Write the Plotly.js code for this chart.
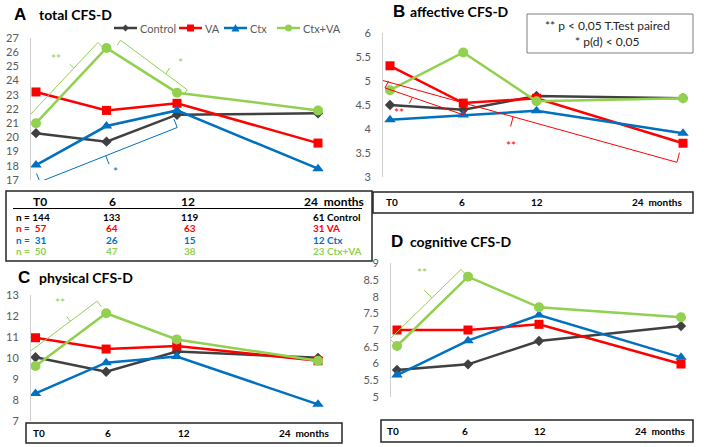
<!DOCTYPE html>
<html><head><meta charset="utf-8">
<script src="https://cdn.plot.ly/plotly-3.0.1.min.js"></script>
<style>html,body{margin:0;padding:0;background:#fff}#chart{width:704px;height:447px}</style>
</head><body><div id="chart"></div>
<script>
// ---------- data ----------
const months = [0, 6, 12, 24];
const monthLabels = ['T0', '6', '12', '24\u00a0 months'];
const groups = ['Control', 'VA', 'Ctx', 'Ctx+VA'];

// A: total CFS-D
const totalControl = [20.3, 19.7, 21.6, 21.7];
const totalVA      = [23.2, 21.9, 22.4, 19.6];
const totalCtx     = [18.05, 20.8, 21.9, 17.8];
const totalCtxVA   = [21.0, 26.3, 23.15, 21.9];
// B: affective CFS-D
const affControl = [4.5, 4.4, 4.69, 4.64];
const affVA      = [5.32, 4.54, 4.64, 3.7];
const affCtx     = [4.19, 4.29, 4.38, 3.91];
const affCtxVA   = [4.81, 5.6, 4.58, 4.64];
// C: physical CFS-D
const physControl = [10.03, 9.34, 10.3, 10.0];
const physVA      = [10.96, 10.42, 10.57, 9.86];
const physCtx     = [8.3, 9.77, 10.06, 7.78];
const physCtxVA   = [9.61, 12.13, 10.88, 9.86];
// D: cognitive CFS-D
const cogControl = [5.8, 5.97, 6.67, 7.12];
const cogVA      = [7.0, 7.0, 7.17, 5.98];
const cogCtx     = [5.65, 6.68, 7.45, 6.18];
const cogCtxVA   = [6.52, 8.6, 7.68, 7.38];

// sample sizes
const nControl = [144, 133, 119, 61];
const nVA      = [57, 64, 63, 31];
const nCtx     = [31, 26, 15, 12];
const nCtxVA   = [50, 47, 38, 23];

const sigLegend = ['** p &lt; 0,05 T.Test paired', '* p(d) &lt; 0,05'];

// ---------- styles ----------
const W = 704, H = 447;
const colors = ['#404040', '#ff0000', '#0070c0', '#92d050'];
const symbols = ['diamond', 'square', 'triangle-up', 'circle'];
const msizes = [8, 9, 10, 10];
const FONT = 'Lato, "Open Sans", sans-serif';
const fx = x => x / W;
const fy = y => 1 - y / H;

const panels = [
  {ax: '',  letter: 'A', title: 'total CFS-D',     dom: [31, 330],  x0: 36,  x24: 318, py: [38, 180],    yr: [17, 27], dtick: 1,
   series: [totalControl, totalVA, totalCtx, totalCtxVA], letterPos: [12, 15], titlePos: [37, 15]},
  {ax: '2', letter: 'B', title: 'affective CFS-D', dom: [383, 695], x0: 390, x24: 683, py: [33.3, 176.7], yr: [3, 6],   dtick: 0.5,
   series: [affControl, affVA, affCtx, affCtxVA], letterPos: [391, 12], titlePos: [408, 12]},
  {ax: '3', letter: 'C', title: 'physical CFS-D',  dom: [31, 330],  x0: 35.5, x24: 318, py: [295, 420.7], yr: [7, 13],  dtick: 1,
   series: [physControl, physVA, physCtx, physCtxVA], letterPos: [16, 277], titlePos: [37, 277]},
  {ax: '4', letter: 'D', title: 'cognitive CFS-D', dom: [391, 695], x0: 397, x24: 681, py: [263.3, 396.7], yr: [5, 9],  dtick: 0.5,
   series: [cogControl, cogVA, cogCtx, cogCtxVA], letterPos: [389, 241], titlePos: [408, 241]}
];

const data = [];
const layout = {
  width: W, height: H, margin: {l: 0, r: 0, t: 0, b: 0},
  paper_bgcolor: '#ffffff', plot_bgcolor: 'rgba(0,0,0,0)',
  showlegend: false, font: {family: FONT, color: '#404040'},
  annotations: [], shapes: []
};

panels.forEach(p => {
  p.pxm = (p.x24 - p.x0) / 24;
  p.pxu = (p.py[1] - p.py[0]) / (p.yr[1] - p.yr[0]);
  const xr = [(p.dom[0] - p.x0) / p.pxm, (p.dom[1] - p.x0) / p.pxm];
  layout['xaxis' + p.ax] = {
    domain: [fx(p.dom[0]), fx(p.dom[1])], range: xr, anchor: 'y' + p.ax,
    showline: false, showgrid: false, zeroline: false, showticklabels: false, ticks: '', fixedrange: true
  };
  layout['yaxis' + p.ax] = {
    domain: [fy(p.py[1]), fy(p.py[0])], range: p.yr, anchor: 'x' + p.ax, dtick: p.dtick, tick0: 0,
    showline: true, linecolor: '#d0d0d0', linewidth: 1, showgrid: false, zeroline: false, ticks: '',
    ticklabelstandoff: 9, tickfont: {family: FONT, size: 11, color: '#595959'}, fixedrange: true
  };
  p.series.forEach((s, g) => {
    data.push({
      type: 'scatter', mode: 'lines+markers', name: groups[g], x: months, y: s,
      xaxis: 'x' + p.ax, yaxis: 'y' + p.ax, cliponaxis: false,
      line: {color: colors[g], width: 2.5},
      marker: {symbol: symbols[g], size: msizes[g], color: colors[g]}
    });
  });
  layout.annotations.push({xref: 'paper', yref: 'paper', x: fx(p.letterPos[0]), y: fy(p.letterPos[1]),
    xanchor: 'left', yanchor: 'middle', showarrow: false, text: '<b>' + p.letter + '</b>',
    font: {family: '"Liberation Sans", Arial, sans-serif', size: 17, color: '#000'}});
  layout.annotations.push({xref: 'paper', yref: 'paper', x: fx(p.titlePos[0]), y: fy(p.titlePos[1]),
    xanchor: 'left', yanchor: 'middle', showarrow: false, text: '<b>' + p.title + '</b>',
    font: {family: FONT, size: 14, color: '#000'}});
});

// ---------- manual legend (panel A) ----------
const legTextX = [138, 203, 248, 301];
const legY = 28;
groups.forEach((g, i) => {
  const x1 = legTextX[i] - 1, x0 = x1 - 23, cx = (x0 + x1) / 2;
  layout.shapes.push({type: 'line', xref: 'paper', yref: 'paper', x0: fx(x0), x1: fx(x1), y0: fy(legY), y1: fy(legY),
    line: {color: colors[i], width: 2.5}});
  const r = 3.5;
  let path;
  if (symbols[i] === 'diamond') path = `M${fx(cx)},${fy(legY - r)} L${fx(cx + r)},${fy(legY)} L${fx(cx)},${fy(legY + r)} L${fx(cx - r)},${fy(legY)} Z`;
  else if (symbols[i] === 'square') path = `M${fx(cx - r)},${fy(legY - r)} L${fx(cx + r)},${fy(legY - r)} L${fx(cx + r)},${fy(legY + r)} L${fx(cx - r)},${fy(legY + r)} Z`;
  else if (symbols[i] === 'triangle-up') path = `M${fx(cx)},${fy(legY - r - 0.5)} L${fx(cx + r + 0.5)},${fy(legY + r)} L${fx(cx - r - 0.5)},${fy(legY + r)} Z`;
  if (path) layout.shapes.push({type: 'path', xref: 'paper', yref: 'paper', path, fillcolor: colors[i], line: {width: 0}});
  else layout.shapes.push({type: 'circle', xref: 'paper', yref: 'paper', x0: fx(cx - r), x1: fx(cx + r), y0: fy(legY + r), y1: fy(legY - r),
    fillcolor: colors[i], line: {width: 0}});
  layout.annotations.push({xref: 'paper', yref: 'paper', x: fx(legTextX[i]), y: fy(legY), xanchor: 'left', yanchor: 'middle',
    showarrow: false, text: g, font: {family: FONT, size: 11, color: '#595959'}});
});

// ---------- boxes with month labels ----------
function box(x0, y0, x1, y1) {
  layout.shapes.push({type: 'rect', xref: 'paper', yref: 'paper', x0: fx(x0), x1: fx(x1), y0: fy(y1), y1: fy(y0),
    line: {color: '#262626', width: 1.5}, fillcolor: 'rgba(0,0,0,0)'});
}
function monthRow(xs, y, size) {
  monthLabels.forEach((t, i) => {
    layout.annotations.push({xref: 'paper', yref: 'paper', x: fx(xs[i]), y: fy(y), xanchor: 'center', yanchor: 'middle',
      showarrow: false, text: '<b>' + t + '</b>', font: {family: FONT, size: size, color: '#000'}});
  });
}
// table under A
box(6, 191, 372, 261);
monthRow([40, 112, 188, 334], 201.5, 12);
layout.shapes.push({type: 'line', xref: 'paper', yref: 'paper', x0: fx(13), x1: fx(362), y0: fy(208.5), y1: fy(208.5),
  line: {color: '#000', width: 1}});
const tableRows = [nControl, nVA, nCtx, nCtxVA];
const rowY = [216.5, 228, 239.5, 251];
tableRows.forEach((row, r) => {
  const font = {family: FONT, size: 10, color: colors[r] === '#404040' ? '#000' : colors[r]};
  const first = 'n = ' + (row[0] < 100 ? '\u00a0' : '') + row[0];
  layout.annotations.push({xref: 'paper', yref: 'paper', x: fx(14), y: fy(rowY[r]), xanchor: 'left', yanchor: 'middle',
    showarrow: false, text: '<b>' + first + '</b>', font});
  layout.annotations.push({xref: 'paper', yref: 'paper', x: fx(112), y: fy(rowY[r]), xanchor: 'center', yanchor: 'middle',
    showarrow: false, text: '<b>' + row[1] + '</b>', font});
  layout.annotations.push({xref: 'paper', yref: 'paper', x: fx(190), y: fy(rowY[r]), xanchor: 'center', yanchor: 'middle',
    showarrow: false, text: '<b>' + row[2] + '</b>', font});
  layout.annotations.push({xref: 'paper', yref: 'paper', x: fx(311), y: fy(rowY[r]), xanchor: 'left', yanchor: 'middle',
    showarrow: false, text: '<b>' + row[3] + ' ' + groups[r] + '</b>', font});
});
// boxes under B, C, D
box(373, 192, 693, 213);
monthRow([392, 462, 537, 657], 202.5, 10);
box(26, 423, 342, 443);
monthRow([39, 108, 184, 304], 433, 10);
box(381, 420, 693, 442);
monthRow([393, 464.5, 539.5, 660], 431, 10);

// significance legend box
layout.shapes.push({type: 'rect', xref: 'paper', yref: 'paper', x0: fx(527), x1: fx(693), y0: fy(53), y1: fy(14),
  line: {color: '#7f7f7f', width: 1}, fillcolor: 'rgba(0,0,0,0)'});
sigLegend.forEach((t, i) => {
  layout.annotations.push({xref: 'paper', yref: 'paper', x: fx(607), y: fy(i === 0 ? 26 : 42), xanchor: 'center', yanchor: 'middle',
    showarrow: false, text: t, font: {family: FONT, size: 12, color: '#262626'}});
});

// ---------- significance braces ----------
function brace(p, series, i0, i1, o) {
  const P0 = [months[i0] * p.pxm, -series[i0] * p.pxu];
  const P1 = [months[i1] * p.pxm, -series[i1] * p.pxu];
  const L = Math.hypot(P1[0] - P0[0], P1[1] - P0[1]);
  const u = [(P1[0] - P0[0]) / L, (P1[1] - P0[1]) / L];
  const n = [o.side * u[1], -o.side * u[0]];
  const add = (A, v, k) => [A[0] + v[0] * k, A[1] + v[1] * k];
  const S = add(add(P0, n, o.d0), u, -o.e0);
  const E = add(add(P1, n, o.d1), u, o.e1);
  const h0 = add(S, n, -o.h), h1 = add(E, n, -o.h);
  const M = [S[0] + (E[0] - S[0]) * o.frac, S[1] + (E[1] - S[1]) * o.frac];
  const T = add(M, n, o.t);
  const lab = add(add(M, n, o.labN), u, o.labU);
  const d = A => `${A[0] / p.pxm},${-A[1] / p.pxu}`;
  layout.shapes.push({type: 'path', xref: 'x' + p.ax, yref: 'y' + p.ax,
    path: `M${d(h0)} L${d(S)} L${d(M)} L${d(T)} M${d(M)} L${d(E)} L${d(h1)}`,
    line: {color: o.color, width: 1}});
  layout.annotations.push({xref: 'x' + p.ax, yref: 'y' + p.ax, x: lab[0] / p.pxm, y: -lab[1] / p.pxu,
    xanchor: 'center', yanchor: 'middle', showarrow: false, text: o.label,
    font: {family: FONT, size: 12, color: o.color}});
}
const [pA, pB, pC, pD] = panels;
brace(pA, totalCtxVA, 0, 1, {side: 1, d0: 10, d1: 10, e0: 2, e1: -2, h: 6, t: 6, frac: 0.66, labN: 20, labU: -5, label: '**', color: colors[3]});
brace(pA, totalCtxVA, 1, 2, {side: 1, d0: 14, d1: 8, e0: -7.7, e1: 7, h: 6, t: 7, frac: 0.68, labN: 17, labU: 6, label: '*', color: colors[3]});
brace(pA, totalCtx, 0, 2, {side: -1, d0: 17, d1: 16, e0: 2.5, e1: -6, h: 9, t: 9, frac: 0.48, labN: 18, labU: 3, label: '*', color: colors[2]});
brace(pB, affVA, 0, 1, {side: -1, d0: 22, d1: 10.4, e0: -5.6, e1: 5.3, h: 8, t: 7, frac: 0.35, labN: 19, labU: -5, label: '**', color: colors[1]});
brace(pB, affVA, 0, 3, {side: -1, d0: 16, d1: 20, e0: 7, e1: -1, h: 10, t: 10, frac: 0.45, labN: 28, labU: 5, label: '**', color: colors[1]});
brace(pC, physCtxVA, 0, 1, {side: 1, d0: 15, d1: 15, e0: 0, e1: 0, h: 7, t: 6, frac: 0.62, labN: 21, labU: 3, label: '**', color: colors[3]});
brace(pD, cogCtxVA, 0, 1, {side: 1, d0: 10, d1: 10, e0: 0, e1: 0, h: 7, t: 11, frac: 0.59, labN: 25, labU: 11, label: '**', color: colors[3]});

Plotly.newPlot('chart', data, layout, {displayModeBar: false, staticPlot: true});
</script></body></html>
